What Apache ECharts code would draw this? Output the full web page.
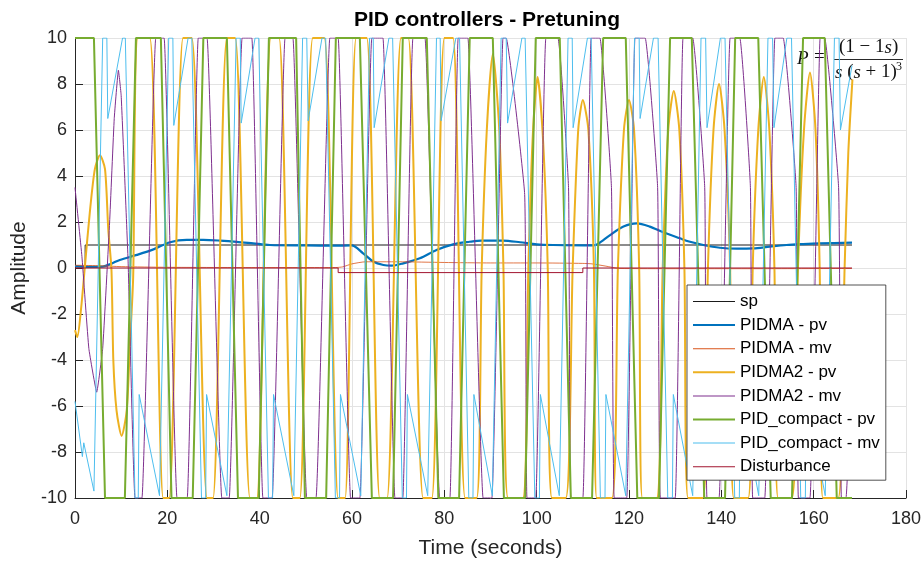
<!DOCTYPE html>
<html>
<head>
<meta charset="utf-8">
<script src="https://cdn.jsdelivr.net/npm/echarts@6/dist/echarts.min.js"></script>
<style>html,body{margin:0;padding:0;background:#fff}#c{width:924px;height:562px}</style>
</head>
<body>
<div id="c"></div>
<script>
const titleText = 'PID controllers - Pretuning';
const xTitle = 'Time (seconds)';
const yTitle = 'Amplitude';
const seriesNames = ['sp','PIDMA - pv','PIDMA - mv','PIDMA2 - pv','PIDMA2 - mv','PID_compact - pv','PID_compact - mv','Disturbance'];

const spData = [[0,0],[2.2,0],[2.2,1],[168.3,1]];

const pidmaPv = [[0,0.08],[3,0.05],[6,0.06],[8,0.2],[9.7,0.35],[13.4,0.57],[17,0.81],[20.6,1.12],[24.2,1.22],[27.8,1.22],[31.4,1.19],[35,1.14],[38.6,1.07],[42.2,1.0],[50,0.98],[56,0.97],[59.9,0.98],[62.4,0.64],[64.6,0.28],[66.8,0.13],[68.6,0.1],[71.1,0.2],[74.7,0.42],[78.3,0.78],[81.9,1.03],[85.5,1.14],[88,1.19],[92.7,1.19],[96.4,1.12],[100,1.03],[103.6,1.0],[112.3,0.98],[113.3,1.05],[115.9,1.43],[118.8,1.8],[121.7,1.94],[124.5,1.8],[127.4,1.55],[131,1.29],[133,1.15],[136.1,1.0],[139.7,0.88],[143.3,0.84],[146.9,0.85],[150.5,0.93],[154.1,1.0],[157.7,1.04],[161.3,1.07],[168.3,1.1]];

const pidmaMv = [[0,0.12],[5,0.1],[10,0.06],[20,0.03],[40,0.02],[56.5,0.02],[58,0.05],[60,0.18],[63,0.27],[70,0.27],[80,0.24],[90,0.22],[100,0.22],[110,0.2],[112,0.18],[115,0.08],[118,-0.02],[130,-0.03],[150,-0.03],[168.3,-0.02]];

const pidma2Pv = [[0,-2.7],[0.5,-3.0],[1.3,-1.8],[2.2,0.2],[3.2,2.4],[4.3,4.3],[5.4,4.9],[6.5,4.3],[7.2,1.7],[7.9,-0.1],[8.3,-4],[9.0,-6.2],[10.1,-7.3],[11.2,-6.2],[11.9,-3.3],[12.6,-0.4],[13.6,10],
[16.2,10],[19.1,-10],[20.4,-10],[23.4,10],[25.3,10],[28.6,-10],[29.9,-10],[32.9,10],[34.7,10],[37.9,-10],[39.4,-10],[42.4,10],[44.2,10],[47.2,-10],[48.7,-10],[51.5,10],[54,10],[57,-10],[58.5,-10],[60.9,10],[63.2,10],[66,-10],[67.6,-10],[70.6,10],[72.2,10],[75.4,-10],[77.3,-10],[80,10],[81.9,10],[84.5,-10],[87,-10],
[88.1,0],[89.2,6],[90.5,9.3],[91.9,6],[92.8,0],[93.8,-10],[97,-10],
[98.2,0],[99.1,5.5],[100.2,8.3],[101.4,5.5],[102.4,0],[103.3,-10],[106.3,-10],
[107.8,0],[109,6],[110,7.3],[111.2,6],[112.4,0],[113,-10],[116.3,-10],
[117.6,0],[118.9,6],[120,7.3],[121.1,6],[122.2,0],[122.9,-10],[126,-10],
[127.3,0],[128.5,6],[129.7,7.7],[130.9,6],[132,0],[132.8,-10],[136,-10],
[137.1,0],[138.3,6],[139.5,8.0],[140.7,6],[141.9,0],[142.7,-10],[145.8,-10],
[146.8,0],[148,6],[149.2,8.3],[150.4,6],[151.5,0],[152.3,-10],[155.3,-10],
[156.6,0],[157.9,6],[159.2,8.5],[160.4,6],[161.3,0],[162,-10],[165.3,-10],
[166.7,0],[167.5,5],[168.4,8.2]];

const pidma2Mv = [[0,3.5],[1.5,0.5],[3,-3.5],[4.7,-5.4],[6,-3.5],[7.5,2],[8.5,6.5],[9.4,8.6],[10,7.5],[11.5,0.3],[13,-10],[14.5,-10],[17.5,10],[19.3,10],[22.1,-10],[24.3,-10],[26.7,10],[28.6,10],[31.8,-10],[33.4,-10],[36.2,10],[38.3,10],[40.7,-10],[42.7,-10],[45.5,10],[47.2,10],[50.2,-10],[52.2,-10],[55.2,10],[57,10],[59.7,-10],[61.7,-10],[64.3,10],[66.7,10],[69.3,-10],[71,-10],[73.2,10],[75.8,10],[79,-10],[81.2,-10],[83,10],[85.1,10],[88.4,-10],[90.3,-10],[92.7,10],[93.4,10],[97.4,3.2],[97.9,-10],[99.8,-10],[102,10],[104.6,10],[106.9,3.5],[107.4,-10],[110,-10],[111.8,10],[113.7,10],[116.2,3.5],[116.8,-10],[119.5,-10],[121.3,10],[123.5,10],[126.2,3.5],[126.8,-10],[130,-10],[131.7,10],[133.8,10],[136.4,3.5],[136.9,-10],[139.5,-10],[141.9,10],[144,10],[146.3,3.5],[146.8,-10],[149.4,-10],[151.6,10],[153.4,10],[156.2,3.5],[156.7,-10],[159.2,-10],[161.4,10],[162.4,10],[165.4,3.5],[166,-10],[167,-10],[168.3,-4]];

const compactPv = [[0,10],[4.1,10],[6.5,-10],[10.8,-10],[13.2,10],[18.6,10],[20.9,-10],[25.5,-10],[27.8,10],[32.9,10],[35.3,-10],[39.8,-10],[42,10],[47.9,10],[49.8,-10],[54.4,-10],[56.5,10],[61.7,10],[64.3,-10],[68.9,-10],[71,10],[76.2,10],[78.7,-10],[83.2,-10],[85.5,10],[90.5,10],[92.9,-10],[97.5,-10],[99.8,10],[105,10],[107.4,-10],[112,-10],[114.4,10],[119.3,10],[121.8,-10],[126.5,-10],[128.9,10],[133.6,10],[136.3,-10],[140.8,-10],[143,10],[148,10],[150.7,-10],[155.3,-10],[157.7,10],[162.4,10],[165,-10],[168.3,-10]];

const compactMv = [[0,-5.8],[1.6,-8.2],[1.9,-7.6],[4.1,-9.7],
[6.0,10],[6.9,10],[7.1,6.5],[10.3,10],[10.9,10],[13.0,-10],[13.7,-10],[13.9,-5.5],[18.3,-9.9],
[20.3,10],[21.2,10],[21.4,6.2],[24.5,10],[25.3,10],[27.4,-10],[28.3,-10],[28.5,-5.5],[32.9,-9.9],
[34.9,10],[35.8,10],[36,6.3],[39,10],[39.8,10],[41.9,-10],[42.8,-10],[43,-5.5],[47.4,-9.9],
[49.3,10],[50.2,10],[50.5,6.4],[53.5,10],[54.3,10],[56.4,-10],[57.3,-10],[57.5,-5.5],[61.9,-9.9],
[63.8,10],[64.6,10],[64.8,6.1],[68,10],[68.8,10],[70.9,-10],[71.8,-10],[72,-5.5],[76.4,-9.9],
[78.3,10],[79.1,10],[79.3,6.4],[82.5,10],[83.3,10],[85.3,-10],[86.2,-10],[86.4,-5.5],[90.4,-9.9],
[92.3,10],[93.4,10],[93.7,6.3],[96.8,10],[97.5,10],[99.6,-10],[100.6,-10],[100.8,-5.5],[104.9,-9.9],
[106.8,10],[107.7,10],[107.9,6.1],[111,10],[111.8,10],[113.8,-10],[114.8,-10],[115,-5.5],[119.3,-9.9],
[121.2,10],[122.2,10],[122.4,6.5],[125.3,10],[126.3,10],[128.4,-10],[129.4,-10],[129.6,-5.5],[133.8,-9.9],
[135.6,10],[136.6,10],[136.9,6.1],[139.8,10],[140.8,10],[142.9,-10],[143.9,-10],[144.1,-5.5],[148.1,-9.9],
[150.1,10],[151.1,10],[151.4,6.1],[154.2,10],[155.2,10],[157.2,-10],[158.2,-10],[158.4,-5.5],[162.5,-9.9],
[164.5,10],[165.5,10],[165.8,6.0],[168.3,8.8]];

const disturbance = [[0,0],[57,0],[57,-0.2],[110,-0.2],[110,0],[168.3,0]];

const xTicks = {min:0, max:180, interval:20};
const yTicks = {min:-10, max:10, interval:2};

const FONT = 'Liberation Sans';
const AX = '#262626';
const THICK = 'path://M0,0H42V2H0Z';
const THIN = 'path://M0,0H42V1H0Z';
const chart = echarts.init(document.getElementById('c'), null, {renderer:'canvas'});

function line(name, data, color, width, smooth) {
  return {name, type:'line', data, symbol:'none', showSymbol:false, smooth: smooth || false,
    lineStyle:{color, width}, itemStyle:{color}, animation:false, clip:true};
}

chart.setOption({
  animation:false,
  backgroundColor:'#fff',
  title:{text:titleText, left:482, top:5, textAlign:'center',
    textStyle:{fontFamily:FONT, fontSize:21, fontWeight:'bold', color:'#000'}},
  grid:{left:75, right:18, top:38, bottom:64, containLabel:false, outerBoundsMode:'none'},
  xAxis:{type:'value', min:xTicks.min, max:xTicks.max, interval:xTicks.interval,
    name:xTitle, nameLocation:'middle', nameGap:40,
    nameTextStyle:{fontFamily:FONT, fontSize:21, color:AX},
    axisLine:{onZero:false, lineStyle:{color:AX, width:1}},
    axisTick:{inside:true, length:8, lineStyle:{color:AX}},
    axisLabel:{fontFamily:FONT, fontSize:18, color:AX, margin:12},
    splitLine:{show:true, lineStyle:{color:'#e3e3e3', width:1}}},
  yAxis:{type:'value', min:yTicks.min, max:yTicks.max, interval:yTicks.interval,
    name:yTitle, nameLocation:'middle', nameGap:39,
    nameTextStyle:{fontFamily:FONT, fontSize:21, color:AX},
    axisLine:{show:true, onZero:false, lineStyle:{color:AX, width:1}},
    axisTick:{show:true, inside:true, length:8, lineStyle:{color:AX}},
    axisLabel:{fontFamily:FONT, fontSize:18, color:AX, margin:8},
    splitLine:{show:true, lineStyle:{color:'#e3e3e3', width:1}}},
  legend:{orient:'vertical', left:687, top:285, itemWidth:42, itemHeight:10, itemGap:6.6,
    padding:[8,6,5,6], backgroundColor:'#fff', borderColor:AX, borderWidth:0.8, borderRadius:0,
    textStyle:{fontFamily:FONT, fontSize:17, color:'#000'},
    data:[
      {name:seriesNames[0], icon:THIN},
      {name:seriesNames[1], icon:THICK},
      {name:seriesNames[2], icon:THIN},
      {name:seriesNames[3], icon:THICK},
      {name:seriesNames[4], icon:THIN},
      {name:seriesNames[5], icon:THICK},
      {name:seriesNames[6], icon:THIN},
      {name:seriesNames[7], icon:THIN}
    ]},
  graphic:[
    {type:'text', left:797, top:49, style:{text:'P', font:'italic 19px "Liberation Serif"', fill:'#111'}},
    {type:'text', left:814, top:48, style:{text:'=', font:'19px "Liberation Serif"', fill:'#111'}},
    {type:'text', left:839, top:38, style:{text:'{n|(1 − 1}{i|s}{n|)}', rich:{n:{font:'19px "Liberation Serif"', fill:'#111'}, i:{font:'italic 19px "Liberation Serif"', fill:'#111'}}}},
    {type:'line', shape:{x1:834, y1:59.5, x2:903, y2:59.5}, style:{stroke:'#111', lineWidth:0.9}},
    {type:'text', left:835, top:63, style:{text:'{i|s}{n| (}{i|s}{n| + 1)}', rich:{n:{font:'19px "Liberation Serif"', fill:'#111'}, i:{font:'italic 19px "Liberation Serif"', fill:'#111'}}}},
    {type:'text', left:896, top:61, style:{text:'3', font:'12px "Liberation Serif"', fill:'#111'}}
  ],
  series:[
    line(seriesNames[0], spData, '#1a1a1a', 1),
    line(seriesNames[1], pidmaPv, '#0072BD', 2.2, 0.3),
    line(seriesNames[2], pidmaMv, '#D95319', 0.8, 0.2),
    line(seriesNames[3], pidma2Pv, '#EDB120', 2, 0.25),
    line(seriesNames[4], pidma2Mv, '#7E2F8E', 1, 0.1),
    line(seriesNames[5], compactPv, '#77AC30', 2, false),
    line(seriesNames[6], compactMv, '#4DBEEE', 1, false),
    line(seriesNames[7], disturbance, '#A2142F', 1, false)
  ]
});
</script>
</body>
</html>
